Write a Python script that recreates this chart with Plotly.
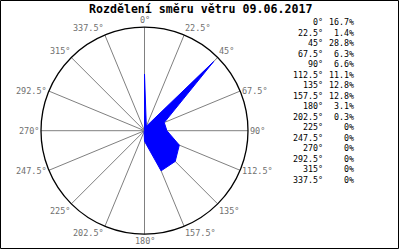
import math
import plotly.graph_objects as go

directions = [0, 22.5, 45, 67.5, 90, 112.5, 135, 157.5, 180, 202.5, 225, 247.5, 270, 292.5, 315, 337.5]
dir_labels = ["0°", "22.5°", "45°", "67.5°", "90°", "112.5°", "135°", "157.5°",
              "180°", "202.5°", "225°", "247.5°", "270°", "292.5°", "315°", "337.5°"]
percents = [16.7, 1.4, 28.8, 6.3, 6.6, 11.1, 12.8, 12.8, 3.1, 0.3, 0, 0, 0, 0, 0, 0]
pct_labels = ["16.7%", "1.4%", "28.8%", "6.3%", "6.6%", "11.1%", "12.8%", "12.8%",
              "3.1%", "0.3%", "0%", "0%", "0%", "0%", "0%", "0%"]
title_text = "Rozdělení směru větru 09.06.2017"

W, H = 400, 250
MONO = "DejaVu Sans Mono"

fig = go.Figure()
fig.add_trace(go.Scatterpolar(
    r=percents + [percents[0]],
    theta=directions + [directions[0]],
    mode="lines",
    fill="toself",
    fillcolor="#0000ff",
    line=dict(color="#0000ff", width=1),
    hoverinfo="skip",
    showlegend=False,
))

cx, cy, rad = 144.5, 130.7, 103.5
fig.update_layout(
    width=W, height=H,
    margin=dict(l=0, r=0, t=0, b=0),
    paper_bgcolor="white",
    plot_bgcolor="white",
    showlegend=False,
    polar=dict(
        domain=dict(x=[(cx - rad) / W, (cx + rad) / W],
                    y=[1 - (cy + rad) / H, 1 - (cy - rad) / H]),
        bgcolor="white",
        radialaxis=dict(range=[0, 30.5], visible=True, showgrid=False, showline=False,
                        showticklabels=False, ticks=""),
        angularaxis=dict(
            direction="clockwise", rotation=90,
            tickmode="array", tickvals=directions, ticktext=dir_labels,
            showline=True, linecolor="black", linewidth=1.3,
            showgrid=True, gridcolor="#808080", gridwidth=1,
            ticks="", showticklabels=False,
        ),
    ),
)

# angular tick labels placed just outside the circle
R = 104.5
for ang, lab in zip(directions, dir_labels):
    s, c = math.sin(math.radians(ang)), math.cos(math.radians(ang))
    px, py = cx + R * s, cy - R * c
    xa = "left" if s > 0.1 else ("right" if s < -0.1 else "center")
    ya = "middle" if abs(c) < 0.5 else ("bottom" if c > 0 else "top")
    fig.add_annotation(x=px / W, y=1 - py / H, xref="paper", yref="paper", text=lab,
                       showarrow=False, xanchor=xa, yanchor=ya, borderpad=0,
                       font=dict(family=MONO, size=8.5, color="#707070"))

# title
fig.add_annotation(x=200 / W, y=1 - 9 / H, xref="paper", yref="paper",
                   text="<b>" + title_text + "</b>", showarrow=False,
                   xanchor="center", yanchor="middle",
                   font=dict(family=MONO, size=11.6, color="black"))

# legend-like table
y0, dy = 22.3, 10.49
for i, (dl, pl) in enumerate(zip(dir_labels, pct_labels)):
    yy = 1 - (y0 + i * dy) / H
    fig.add_annotation(x=325 / W, y=yy, xref="paper", yref="paper", text=dl,
                       showarrow=False, xanchor="right", yanchor="middle",
                       font=dict(family=MONO, size=8.3, color="black"))
    fig.add_annotation(x=356 / W, y=yy, xref="paper", yref="paper", text=pl,
                       showarrow=False, xanchor="right", yanchor="middle",
                       font=dict(family=MONO, size=8.3, color="black"))

# frame
fig.add_shape(type="rect", xref="paper", yref="paper",
              x0=0.5 / W, x1=398.5 / W, y0=1 - 248.5 / H, y1=1 - 0.5 / H,
              line=dict(color="black", width=1))

fig.write_html("out.html")
